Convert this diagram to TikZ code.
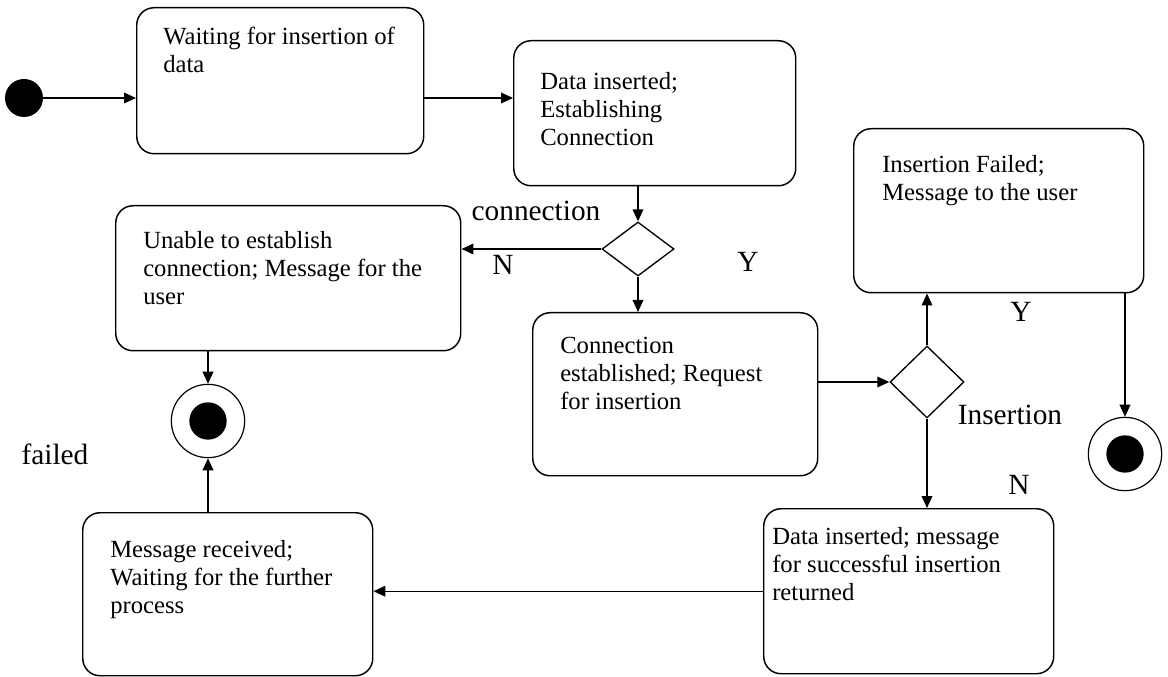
\documentclass[tikz,border=0pt]{standalone}
\usepackage{fontspec}
\setmainfont{Liberation Serif}
\usetikzlibrary{shapes.geometric}
\usetikzlibrary{arrows.meta}

\begin{document}
\begin{tikzpicture}
	[x=0.75pt,y=-0.75pt,
	statebox/.style={draw=black,line width=1.1pt,rounded corners=13pt,anchor=north west,inner sep=0pt},
	statetext/.style={anchor=north west,inner sep=0pt,align=left,font=\fontsize{18.5pt}{21pt}\selectfont},
	decision/.style={diamond,draw=black,line width=1pt,inner sep=0pt},
	startdot/.style={circle,fill=black,minimum size=28.5pt,inner sep=0pt},
	enddot/.style={circle,draw=black,line width=0.9pt,minimum size=55pt,inner sep=0pt,
		path picture={\fill[black] (path picture bounding box.center) circle (14pt);}},
	guard/.style={font=\fontsize{22pt}{26pt}\selectfont},
	flow/.style={draw=black,line width=1.1pt,-{Triangle[length=9pt,width=8pt]}}]

	\useasboundingbox (0,0) rectangle (1168,677);

	% Start and end points
	\node[startdot] (start) at (24,98) {};
	\node[enddot] (end1) at (208,421) {};
	\node[enddot] (end2) at (1125,454) {};

	% Draw the states
	\node[statebox,minimum width=215.25pt,minimum height=109.5pt] (wait) at (136,7) {};
	\node[statebox,minimum width=211.5pt,minimum height=108.75pt] (estab) at (513,40) {};
	\node[statebox,minimum width=258.75pt,minimum height=108.75pt] (unable) at (115,205) {};
	\node[statebox,minimum width=213.75pt,minimum height=122.25pt] (connest) at (532,312) {};
	\node[statebox,minimum width=217.5pt,minimum height=123pt] (insfail) at (853,128) {};
	\node[statebox,minimum width=217.5pt,minimum height=122.25pt] (msgrec) at (82,512) {};
	\node[statebox,minimum width=217.5pt,minimum height=123.75pt] (datains) at (763,508) {};

	% State texts
	\node[statetext] (wait-txt) at (163,27) {Waiting for insertion of\\data};
	\node[statetext] (estab-txt) at (540,72) {Data inserted;\\Establishing\\Connection};
	\node[statetext] (unable-txt) at (143,231) {Unable to establish\\connection; Message for the\\user};
	\node[statetext] (connest-txt) at (560,337) {Connection\\established; Request\\for insertion};
	\node[statetext] (insfail-txt) at (882,155) {Insertion Failed;\\Message to the user};
	\node[statetext] (msgrec-txt) at (110,540) {Message received;\\Waiting for the further\\process};
	\node[statetext] (datains-txt) at (772,527) {Data inserted; message\\for successful insertion\\returned};

	% Decisions
	\node[decision,minimum width=54pt,minimum height=40.5pt] (d1) at (638,249) {};
	\node[decision,minimum width=55.5pt,minimum height=54pt] (d2) at (927,382) {};

	% Draw the transitions
	\draw[flow] (start) -- (start -| wait.west);
	\draw[flow] (start -| wait.east) -- (start -| estab.west);
	\draw[flow] (estab.south -| d1.north) -- (d1.north);
	\draw[flow] (d1.west) -- (d1.west -| unable.east);
	\draw[flow] (d1.south) -- (d1.south |- connest.north);
	\draw[flow] (d2.west -| connest.east) -- (d2.west);
	\draw[flow] (d2.north) -- (d2.north |- insfail.south);
	\draw[flow] (end2 |- insfail.south) -- (end2.north);
	\draw[flow] (d2.south) -- (d2.south |- datains.north);
	\draw[flow] (datains.west) -- (datains.west -| msgrec.east);
	\draw[flow] (end1 |- unable.south) -- (end1.north);
	\draw[flow] (end1 |- msgrec.north) -- (end1.south);

	% Guard labels
	\node[guard] (conn-lbl) at (536,211) {connection};
	\node[guard] (n1-lbl) at (503,265) {N};
	\node[guard] (y1-lbl) at (748,262) {Y};
	\node[guard] (y2-lbl) at (1021,312) {Y};
	\node[guard] (ins-lbl) at (1010,415) {Insertion};
	\node[guard] (n2-lbl) at (1019,485) {N};
	\node[guard] (failed-lbl) at (55,454) {failed};
\end{tikzpicture}
\end{document}
